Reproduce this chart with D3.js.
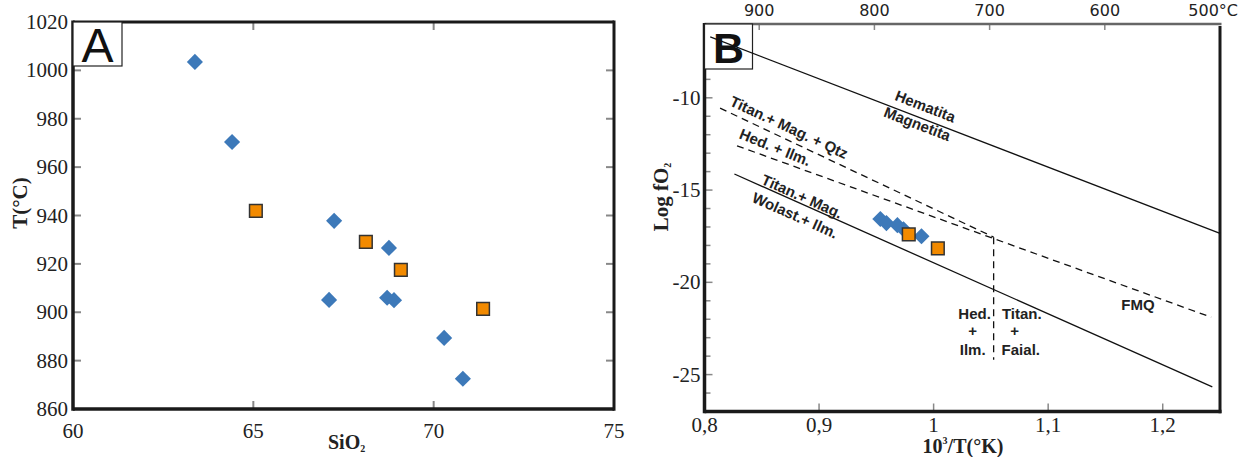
<!DOCTYPE html>
<html><head><meta charset="utf-8">
<script src="https://cdn.jsdelivr.net/npm/d3@7"></script>
<style>body{margin:0;background:#fff} svg{display:block}</style>
</head><body><svg id="c" width="1239" height="457"></svg>
<script>
// ---------- Panel A data ----------
const siO2Blue   = [63.38, 64.41, 67.24, 67.10, 68.76, 68.71, 68.90, 70.29, 70.81];
const tempBlue   = [1003.5, 970.4, 937.8, 905.1, 926.6, 906.0, 905.0, 889.4, 872.5];
const siO2Orange = [65.07, 68.12, 69.09, 71.37];
const tempOrange = [941.9, 929.1, 917.5, 901.4];
const xTicksA = [60, 65, 70, 75];
const yTicksA = [860, 880, 900, 920, 940, 960, 980, 1000, 1020];

// ---------- Panel B data ----------
const invTBlue   = [0.9535, 0.9588, 0.9684, 0.9737, 0.9894];
const logfBlue   = [-16.57, -16.79, -16.90, -17.12, -17.50];
const invTOrange = [0.9783, 1.0037];
const logfOrange = [-17.40, -18.16];
const xTicksB = [0.8, 0.9, 1.0, 1.1, 1.2];
const xTickLabelsB = ["0,8", "0,9", "1", "1,1", "1,2"];
const yTicksB = [-10, -15, -20, -25];
const yMinorB = [-26, -25, -24, -23, -22, -21, -20, -19, -18, -17, -16, -15, -14, -13, -12, -11, -10, -9, -8, -7];
const tempTicksB = [900, 800, 700, 600, 500];
const tempTickLabelsB = ["900", "800", "700", "600", "500°C"];
// buffer / reaction lines (10^3/T, log fO2)
const hmX  = [0.805, 1.25],    hmY  = [-6.7, -17.35];
const tmqX = [0.8136, 1.0524], tmqY = [-10.56, -17.55];
const fmqX = [0.8284, 1.2423], fmqY = [-12.6, -21.89];
const twX  = [0.8261, 1.2433], twY  = [-14.13, -25.67];
const vX   = [1.0524, 1.0524], vY   = [-17.55, -24.2];

const BLUE = "#3d79b9", ORANGE = "#f28a00";
const serif = "'Liberation Serif','Times New Roman',serif";
const sans = "'Liberation Sans',Arial,sans-serif";

const svg = d3.select("#c");

// ================= Panel A =================
const xA = d3.scaleLinear().domain([60, 75]).range([73, 614]);
const yA = d3.scaleLinear().domain([860, 1020]).range([409, 22]);
const gA = svg.append("g");

gA.selectAll(".tl").data(yTicksA.slice(1, -1)).enter().append("line")
  .attr("x1", xA(60)).attr("x2", xA(60) + 8).attr("y1", d => yA(d)).attr("y2", d => yA(d))
  .attr("stroke", "#888").attr("stroke-width", 2);
gA.selectAll(".tr").data(yTicksA.slice(1, -1)).enter().append("line")
  .attr("x1", xA(75)).attr("x2", xA(75) - 8).attr("y1", d => yA(d)).attr("y2", d => yA(d))
  .attr("stroke", "#888").attr("stroke-width", 2);
gA.selectAll(".tb").data(xTicksA.slice(1, -1)).enter().append("line")
  .attr("x1", d => xA(d)).attr("x2", d => xA(d)).attr("y1", yA(860)).attr("y2", yA(860) - 8)
  .attr("stroke", "#888").attr("stroke-width", 2);
gA.selectAll(".tt").data(xTicksA.slice(1, -1)).enter().append("line")
  .attr("x1", d => xA(d)).attr("x2", d => xA(d)).attr("y1", yA(1020)).attr("y2", yA(1020) + 8)
  .attr("stroke", "#888").attr("stroke-width", 2);

gA.append("line").attr("x1", xA(60)).attr("x2", xA(75)).attr("y1", yA(1020)).attr("y2", yA(1020)).attr("stroke", "#1a1a1a").attr("stroke-width", 3);
gA.append("line").attr("x1", xA(60)).attr("x2", xA(75)).attr("y1", yA(860)).attr("y2", yA(860)).attr("stroke", "#1a1a1a").attr("stroke-width", 3.5);
gA.append("line").attr("x1", xA(60)).attr("x2", xA(60)).attr("y1", yA(1020) - 1.5).attr("y2", yA(860) + 1.7).attr("stroke", "#1a1a1a").attr("stroke-width", 3.5);
gA.append("line").attr("x1", xA(75)).attr("x2", xA(75)).attr("y1", yA(1020) - 1.5).attr("y2", yA(860) + 1.7).attr("stroke", "#1a1a1a").attr("stroke-width", 3);

gA.selectAll(".yl").data(yTicksA).enter().append("text")
  .attr("x", xA(60) - 5).attr("y", d => yA(d) + 7)
  .attr("text-anchor", "end").attr("font-family", serif).attr("font-size", 21).attr("fill", "#222").text(d => d);
gA.selectAll(".xl").data(xTicksA).enter().append("text")
  .attr("x", d => xA(d)).attr("y", 438)
  .attr("text-anchor", "middle").attr("font-family", serif).attr("font-size", 21).attr("fill", "#222").text(d => d);

gA.append("text").attr("transform", "translate(27,203) rotate(-90)")
  .attr("text-anchor", "middle").attr("font-family", serif).attr("font-weight", "bold").attr("font-size", 21).attr("fill", "#222")
  .text("T(°C)");
const sio = gA.append("text").attr("x", 328).attr("y", 449)
  .attr("font-family", serif).attr("font-weight", "bold").attr("font-size", 20).attr("fill", "#222");
sio.append("tspan").text("SiO");
sio.append("tspan").attr("font-size", 10).attr("dy", 3).text("2");

gA.append("rect").attr("x", xA(60)).attr("y", yA(1020)).attr("width", 49).attr("height", 44)
  .attr("fill", "#fff").attr("stroke", "#222").attr("stroke-width", 1.2);
gA.append("text").attr("x", xA(60) + 24.5).attr("y", yA(1020) + 40)
  .attr("text-anchor", "middle").attr("font-family", sans).attr("font-size", 48).attr("fill", "#111").text("A");

const diamond = d3.symbol().type(d3.symbolSquare).size(130)();
const square = d3.symbol().type(d3.symbolSquare).size(160)();
gA.selectAll(".bd").data(siO2Blue.map((v, i) => [v, tempBlue[i]])).enter().append("path")
  .attr("d", diamond).attr("transform", d => `translate(${xA(d[0])},${yA(d[1])}) rotate(45)`)
  .attr("fill", BLUE);
gA.selectAll(".os").data(siO2Orange.map((v, i) => [v, tempOrange[i]])).enter().append("path")
  .attr("d", square).attr("transform", d => `translate(${xA(d[0])},${yA(d[1])})`)
  .attr("fill", ORANGE).attr("stroke", "#333").attr("stroke-width", 1.5);

// ================= Panel B =================
const xB = d3.scaleLinear().domain([0.8, 1.25]).range([704.5, 1220]);
const yB = d3.scaleLinear().domain([-27, -6]).range([411.5, 24]);
const tB = d3.scaleLinear().domain([947.5, 500]).range([704.5, 1220]);
const gB = svg.append("g");

gB.selectAll(".ml").data(yMinorB).enter().append("line")
  .attr("x1", xB(0.8)).attr("x2", d => xB(0.8) + (d % 5 === 0 ? 8 : 6)).attr("y1", d => yB(d)).attr("y2", d => yB(d))
  .attr("stroke", "#888").attr("stroke-width", 1.5);
gB.selectAll(".bt").data(xTicksB.slice(1)).enter().append("line")
  .attr("x1", d => xB(d)).attr("x2", d => xB(d)).attr("y1", yB(-27)).attr("y2", yB(-27) - 8)
  .attr("stroke", "#888").attr("stroke-width", 1.5);
gB.selectAll(".tt").data(tempTicksB.slice(0, -1)).enter().append("line")
  .attr("x1", d => tB(d)).attr("x2", d => tB(d)).attr("y1", yB(-6)).attr("y2", yB(-6) + 6)
  .attr("stroke", "#888").attr("stroke-width", 1.5);

gB.append("line").attr("x1", xB(0.8)).attr("x2", xB(1.25) + 1.5).attr("y1", yB(-6)).attr("y2", yB(-6)).attr("stroke", "#666").attr("stroke-width", 2.5);
gB.append("line").attr("x1", xB(0.8)).attr("x2", xB(1.25) + 1.5).attr("y1", yB(-27)).attr("y2", yB(-27)).attr("stroke", "#1a1a1a").attr("stroke-width", 3.5);
gB.append("line").attr("x1", xB(0.8)).attr("x2", xB(0.8)).attr("y1", yB(-6) - 1).attr("y2", yB(-27) + 1.7).attr("stroke", "#1a1a1a").attr("stroke-width", 3.5);
gB.append("line").attr("x1", xB(1.25)).attr("x2", xB(1.25)).attr("y1", yB(-6) + 2).attr("y2", yB(-27) + 1.7).attr("stroke", "#1a1a1a").attr("stroke-width", 3);

gB.selectAll(".yl").data(yTicksB).enter().append("text")
  .attr("x", xB(0.8) - 4).attr("y", d => yB(d) + 7)
  .attr("text-anchor", "end").attr("font-family", serif).attr("font-size", 21).attr("fill", "#222").text(d => "-" + Math.abs(d));
gB.selectAll(".xl").data(xTicksB).enter().append("text")
  .attr("x", d => xB(d)).attr("y", 432)
  .attr("text-anchor", "middle").attr("font-family", serif).attr("font-size", 21).attr("fill", "#222").text((d, i) => xTickLabelsB[i]);
gB.selectAll(".tl").data(tempTicksB).enter().append("text")
  .attr("x", (d, i) => i === tempTicksB.length - 1 ? 1238 : tB(d)).attr("y", 16)
  .attr("text-anchor", (d, i) => i === tempTicksB.length - 1 ? "end" : "middle")
  .attr("font-family", "'DejaVu Sans',sans-serif").attr("font-size", 16).attr("fill", "#222")
  .text((d, i) => tempTickLabelsB[i]);

const lg = gB.append("text").attr("transform", "translate(668,197) rotate(-90)")
  .attr("text-anchor", "middle").attr("font-family", serif).attr("font-weight", "bold").attr("font-size", 21).attr("fill", "#222");
lg.append("tspan").text("Log fO");
lg.append("tspan").attr("font-size", 10).attr("dy", 3).text("2");
const xt = gB.append("text").attr("x", 963).attr("y", 453)
  .attr("text-anchor", "middle").attr("font-family", serif).attr("font-weight", "bold").attr("font-size", 20).attr("fill", "#222");
xt.append("tspan").text("10");
xt.append("tspan").attr("font-size", 10).attr("dy", -9).text("3");
xt.append("tspan").attr("dy", 9).text("/T(°K)");

// panel letter box (drawn before lines so the buffer line crosses it)
gB.append("rect").attr("x", xB(0.8)).attr("y", yB(-6)).attr("width", 48).attr("height", 45)
  .attr("fill", "#fff").attr("stroke", "#222").attr("stroke-width", 1.2);
gB.append("text").attr("x", xB(0.8) + 24).attr("y", yB(-6) + 39)
  .attr("text-anchor", "middle").attr("font-family", sans).attr("font-weight", "bold").attr("font-size", 43).attr("fill", "#111").text("B");

const lineGen = d3.line().x(d => xB(d[0])).y(d => yB(d[1]));
function drawLine(xs, ys, dashed) {
  gB.append("path").attr("d", lineGen(xs.map((x, i) => [x, ys[i]])))
    .attr("fill", "none").attr("stroke", "#111").attr("stroke-width", 1.3)
    .attr("stroke-dasharray", dashed ? "7,5" : null);
}
drawLine(hmX, hmY, false);
drawLine(tmqX, tmqY, true);
drawLine(fmqX, fmqY, true);
drawLine(twX, twY, false);
drawLine(vX, vY, true);

function angle(xs, ys) {
  return Math.atan2(yB(ys[1]) - yB(ys[0]), xB(xs[1]) - xB(xs[0])) * 180 / Math.PI;
}
const labels = [
  ["Hematita", 0.9929, -10.45, angle(hmX, hmY)],
  ["Magnetita", 0.9859, -11.40, angle(hmX, hmY)],
  ["Titan.+ Mag. + Qtz", 0.8739, -11.59, 25],
  ["Hed. + Ilm.", 0.8617, -12.67, 22],
  ["Titan.+ Mag.", 0.8853, -15.33, angle(twX, twY)],
  ["Wolast.+ Ilm.", 0.8792, -16.36, angle(twX, twY)],
  ["FMQ", 1.1784, -21.18, 0],
  ["Hed.", 1.0358, -21.67, 0],
  ["+", 1.0341, -22.59, 0],
  ["Ilm.", 1.0341, -23.62, 0],
  ["Titan.", 1.0770, -21.67, 0],
  ["+", 1.0708, -22.59, 0],
  ["Faial.", 1.0761, -23.62, 0]
];
gB.selectAll(".lab").data(labels).enter().append("text")
  .attr("transform", d => `translate(${xB(d[1])},${yB(d[2])}) rotate(${d[3]})`)
  .attr("text-anchor", "middle").attr("dominant-baseline", "central")
  .attr("font-family", sans).attr("font-weight", "bold").attr("font-size", 15).attr("fill", "#222")
  .text(d => d[0]);

gB.selectAll(".bd").data(invTBlue.map((v, i) => [v, logfBlue[i]])).enter().append("path")
  .attr("d", diamond).attr("transform", d => `translate(${xB(d[0])},${yB(d[1])}) rotate(45)`)
  .attr("fill", BLUE);
gB.selectAll(".os").data(invTOrange.map((v, i) => [v, logfOrange[i]])).enter().append("path")
  .attr("d", square).attr("transform", d => `translate(${xB(d[0])},${yB(d[1])})`)
  .attr("fill", ORANGE).attr("stroke", "#333").attr("stroke-width", 1.5);
</script>
</body></html>
